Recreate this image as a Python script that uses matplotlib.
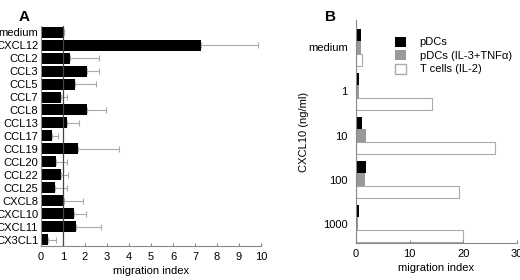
import numpy as np
import matplotlib
matplotlib.use("Agg")
import matplotlib.pyplot as plt
from matplotlib.patches import Patch

plt.rcParams['font.family'] = ['Liberation Sans', 'DejaVu Sans']
plt.rcParams['font.size'] = 8

# panel A
chemokines = ['medium', 'CXCL12', 'CCL2', 'CCL3', 'CCL5', 'CCL7', 'CCL8', 'CCL13',
              'CCL17', 'CCL19', 'CCL20', 'CCL22', 'CCL25', 'CXCL8', 'CXCL10',
              'CXCL11', 'CX3CL1']
mig_index = [1.05, 7.27, 1.3, 2.08, 1.56, 0.89, 2.1, 1.18, 0.48, 1.68, 0.70,
             0.92, 0.65, 1.03, 1.5, 1.58, 0.3]
mig_upper = [1.05, 9.85, 2.65, 2.62, 2.48, 1.2, 2.95, 1.74, 0.79, 3.55, 1.17,
             1.24, 1.17, 1.9, 2.03, 2.74, 0.67]

# panel B
conc = ['medium', '1', '10', '100', '1000']
pdc = [1.0, 0.6, 1.2, 1.8, 0.55]
pdc_act = [1.0, 0.6, 1.8, 1.65, 0.45]
tcell = [1.05, 14.2, 26.0, 19.3, 19.95]

fig = plt.figure(figsize=(5.2, 2.8), dpi=100)

axA = fig.add_axes([0.0788, 0.1214, 0.4232, 0.7856])
y = np.arange(len(chemokines))
err = np.array(mig_upper) - np.array(mig_index)
axA.barh(y, mig_index, height=0.85, color='black',
         xerr=[np.zeros(len(err)), err], ecolor='#aaaaaa',
         error_kw=dict(elinewidth=0.8, capsize=2, capthick=0.8))
axA.axvline(1, color='#444444', lw=0.9, zorder=3)
axA.set_ylim(16.5, -0.48)
axA.set_xlim(0, 10)
axA.set_yticks(y)
axA.set_yticklabels(chemokines)
axA.set_xticks(range(11))
axA.set_xlabel('migration index', labelpad=3)
axA.tick_params(axis='y', length=0, pad=2)
axA.tick_params(axis='x', direction='in', length=2, pad=4, color='#888888')
for s in ['top', 'right']:
    axA.spines[s].set_visible(False)
for s in ['left', 'bottom']:
    axA.spines[s].set_color('#888888')
    axA.spines[s].set_linewidth(0.8)
fig.text(0.035, 0.965, 'A', fontsize=11, fontweight='bold', va='top')

axB = fig.add_axes([0.6846, 0.132, 0.3094, 0.797])
g = np.arange(len(conc))
h = 0.28
axB.barh(g - h, pdc, height=h, color='black')
axB.barh(g, pdc_act, height=h, color='#999999')
axB.barh(g + h, tcell, height=h, color='white', edgecolor='#aaaaaa', lw=0.8)
axB.set_ylim(4.44, -0.625)
axB.set_xlim(0, 30)
axB.set_yticks(g)
axB.set_yticklabels(conc)
axB.set_xticks([0, 10, 20, 30])
axB.set_xlabel('migration index', labelpad=3)
axB.set_ylabel('CXCL10 (ng/ml)')
axB.yaxis.set_label_coords(-0.29, 0.5)
axB.tick_params(axis='y', length=0, pad=6)
axB.tick_params(axis='x', direction='in', length=2, pad=4, color='#888888')
for s in ['top', 'right']:
    axB.spines[s].set_visible(False)
for s in ['left', 'bottom']:
    axB.spines[s].set_color('#888888')
    axB.spines[s].set_linewidth(0.8)
handles = [Patch(facecolor='black', label='pDCs'),
           Patch(facecolor='#999999', label='pDCs (IL-3+TNF\u03b1)'),
           Patch(facecolor='white', edgecolor='#aaaaaa', label='T cells (IL-2)')]
axB.legend(handles=handles, loc='upper left', bbox_to_anchor=(0.21, 0.95),
           frameon=False, handlelength=1.0, handleheight=1.0,
           handletextpad=1.2, labelspacing=0.25, borderpad=0)
fig.text(0.625, 0.965, 'B', fontsize=11, fontweight='bold', va='top')

fig.savefig('out.png', dpi=100)
